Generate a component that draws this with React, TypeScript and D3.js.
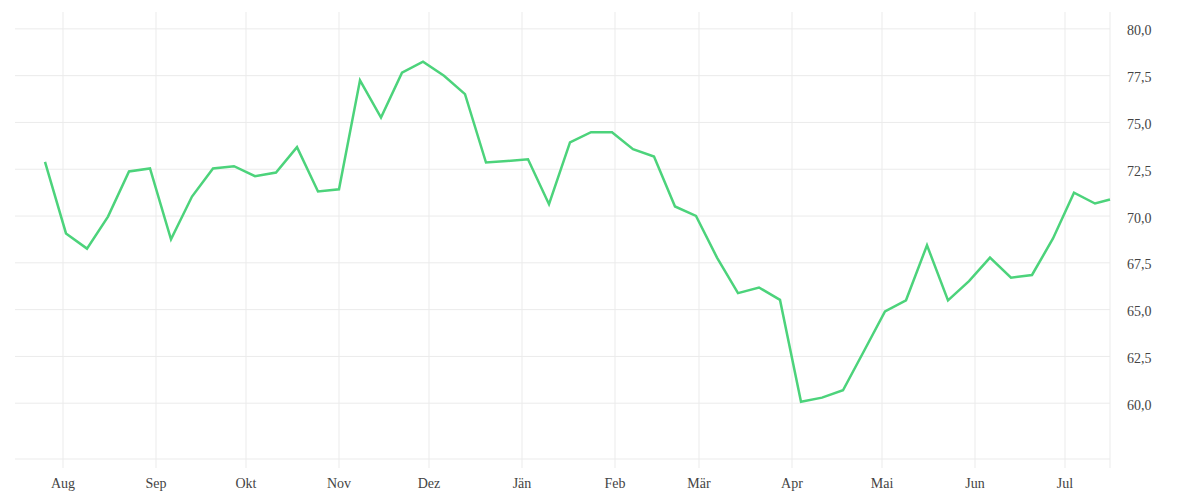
import * as d3 from 'd3';

// weekly readings (last one is a partial week)
const dates = [
  '2022-07-26', '2022-08-02', '2022-08-09', '2022-08-16', '2022-08-23', '2022-08-30',
  '2022-09-06', '2022-09-13', '2022-09-20', '2022-09-27',
  '2022-10-04', '2022-10-11', '2022-10-18', '2022-10-25',
  '2022-11-01', '2022-11-08', '2022-11-15', '2022-11-22', '2022-11-29',
  '2022-12-06', '2022-12-13', '2022-12-20', '2022-12-27',
  '2023-01-03', '2023-01-10', '2023-01-17', '2023-01-24', '2023-01-31',
  '2023-02-07', '2023-02-14', '2023-02-21', '2023-02-28',
  '2023-03-07', '2023-03-14', '2023-03-21', '2023-03-28',
  '2023-04-04', '2023-04-11', '2023-04-18', '2023-04-25',
  '2023-05-02', '2023-05-09', '2023-05-16', '2023-05-23', '2023-05-30',
  '2023-06-06', '2023-06-13', '2023-06-20', '2023-06-27',
  '2023-07-04', '2023-07-11', '2023-07-16',
];

const values = [
  72.89, 69.07, 68.26, 69.97, 72.38, 72.54,
  68.76, 71.04, 72.54, 72.66,
  72.13, 72.32, 73.68, 71.31,
  71.43, 77.25, 75.26, 77.66, 78.25,
  77.49, 76.51, 72.86, 72.94,
  73.03, 70.63, 73.93, 74.48, 74.48,
  73.57, 73.18, 70.51, 70.01,
  67.78, 65.88, 66.18, 65.52,
  60.08, 60.3, 60.69, 62.79,
  64.9, 65.5, 68.44, 65.49, 66.52,
  67.78, 66.71, 66.85, 68.8,
  71.25, 70.67, 70.88,
];

const monthNames = ['Jän', 'Feb', 'Mär', 'Apr', 'Mai', 'Jun', 'Jul', 'Aug', 'Sep', 'Okt', 'Nov', 'Dez'];
const yTicks = [60, 62.5, 65, 67.5, 70, 72.5, 75, 77.5, 80];

const W = 1200;
const H = 500;
const plot = { left: 15, right: 1110, top: 12, bottom: 459 };
const tickLen = 9;

const parse = d3.timeParse('%Y-%m-%d');
const points = dates.map((d, i) => ({ date: parse(d) as Date, value: values[i] }));

const lineColor = '#4cd37b';
const gridColor = '#ebebeb';
const textColor = '#444';
const font = '"Liberation Serif", serif';

export default function App() {
  const last = points[points.length - 1].date;
  const first = d3.timeYear.offset(last, -1); // one year window

  const x = d3.scaleTime().domain([first, last]).range([plot.left, plot.right]);
  const y = d3.scaleLinear().domain([57.02, 80.9]).range([plot.bottom, plot.top]);

  const months = d3.timeMonth.range(d3.timeMonth.ceil(first), last);
  const fmt = d3.formatLocale({ decimal: ',', thousands: '.', grouping: [3], currency: ['', ' €'] }).format('.1f');

  const line = d3
    .line<{ date: Date; value: number }>()
    .x((d) => x(d.date))
    .y((d) => y(d.value));

  return (
    <div style={{ position: 'absolute', left: 0, top: 0 }}>
      <svg width={W} height={H} style={{ display: 'block', fontFamily: font }}>
        {/* horizontal grid */}
        {yTicks.map((t) => (
          <line key={t} x1={plot.left} x2={plot.right} y1={y(t)} y2={y(t)} stroke={gridColor} strokeWidth={1} />
        ))}
        <line x1={plot.left} x2={plot.right} y1={plot.bottom} y2={plot.bottom} stroke={gridColor} strokeWidth={1} />

        {/* vertical grid at month starts */}
        {months.map((m) => (
          <line
            key={+m}
            x1={x(m)}
            x2={x(m)}
            y1={plot.top}
            y2={plot.bottom + tickLen}
            stroke={gridColor}
            strokeWidth={1}
          />
        ))}
        <line x1={plot.right} x2={plot.right} y1={plot.top} y2={plot.bottom + tickLen} stroke={gridColor} strokeWidth={1} />

        {/* month labels */}
        {months.map((m) => (
          <text key={'l' + +m} x={x(m)} y={488} textAnchor="middle" fontSize={14} fill={textColor}>
            {monthNames[m.getMonth()]}
          </text>
        ))}

        {/* value labels on the right */}
        {yTicks.map((t) => (
          <text key={'y' + t} x={1127} y={y(t) + 6.5} fontSize={14} fill={textColor}>
            {fmt(t)}
          </text>
        ))}

        <path d={line(points) ?? ''} fill="none" stroke={lineColor} strokeWidth={2.5} strokeLinejoin="miter" />
      </svg>
    </div>
  );
}
